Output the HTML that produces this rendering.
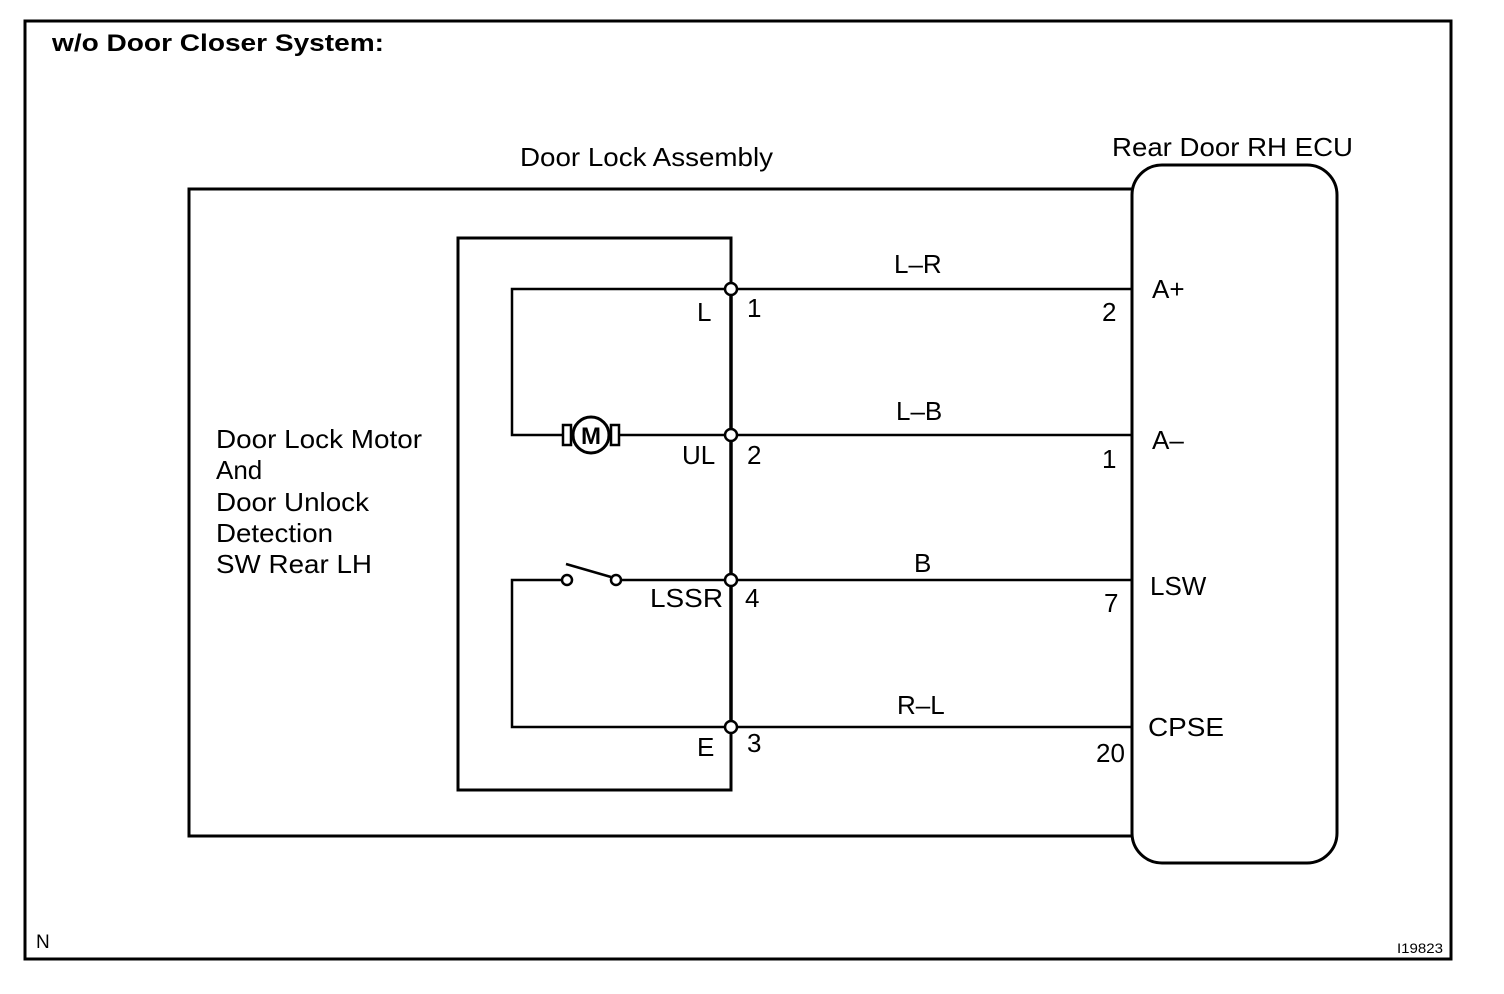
<!DOCTYPE html>
<html><head><style>
html,body{margin:0;padding:0;background:#fff;}
svg{display:block;}
text{font-family:"Liberation Sans",Arial,sans-serif;fill:#000;}
</style></head><body>
<svg width="1504" height="994" viewBox="0 0 1504 994" xmlns="http://www.w3.org/2000/svg">
<rect x="25" y="21" width="1426" height="938" fill="none" stroke="#000" stroke-width="3"/>
<text x="52" y="51" font-size="24" font-weight="bold" textLength="332" lengthAdjust="spacingAndGlyphs">w/o Door Closer System:</text>
<text x="520" y="166" font-size="26" textLength="253" lengthAdjust="spacingAndGlyphs">Door Lock Assembly</text>
<text x="1112" y="156" font-size="26" textLength="241" lengthAdjust="spacingAndGlyphs">Rear Door RH ECU</text>
<path d="M1132 189 H189 V836 H1132" fill="none" stroke="#000" stroke-width="3"/>
<rect x="1132" y="165" width="205" height="698" rx="30" ry="30" fill="none" stroke="#000" stroke-width="3"/>
<path d="M731 289 V238 H458 V790 H731 V727" fill="none" stroke="#000" stroke-width="3"/>
<line x1="731" y1="289" x2="731" y2="727" stroke="#000" stroke-width="3.5"/>
<g stroke="#000" stroke-width="2.5" fill="none">
<line x1="731" y1="289" x2="1132" y2="289"/>
<line x1="731" y1="435" x2="1132" y2="435"/>
<line x1="731" y1="580" x2="1132" y2="580"/>
<line x1="731" y1="727" x2="1132" y2="727"/>
<path d="M731 289 H512 V435 H563"/>
<path d="M619 435 H731"/>
<path d="M567 580 H512 V727 H731"/>
<path d="M616 580 H731"/>
<line x1="566" y1="564" x2="611" y2="577"/>
<rect x="563" y="425" width="8" height="20"/>
<rect x="611" y="425" width="8" height="20"/>
</g>
<circle cx="591" cy="435" r="18" fill="#fff" stroke="#000" stroke-width="3"/>
<text x="591" y="444" font-size="24" font-weight="bold" text-anchor="middle">M</text>
<g fill="#fff" stroke="#000" stroke-width="2.5">
<circle cx="567" cy="580" r="5"/><circle cx="616" cy="580" r="5"/>
<circle cx="731" cy="289" r="6"/><circle cx="731" cy="435" r="6"/>
<circle cx="731" cy="580" r="6"/><circle cx="731" cy="727" r="6"/>
</g>
<g font-size="26">
<text x="697" y="321">L</text><text x="747" y="317">1</text>
<text x="682" y="464">UL</text><text x="747" y="464">2</text>
<text x="650" y="607" textLength="73" lengthAdjust="spacingAndGlyphs">LSSR</text><text x="745" y="607">4</text>
<text x="697" y="756">E</text><text x="747" y="752">3</text>
<text x="894" y="273">L–R</text><text x="896" y="420">L–B</text>
<text x="914" y="572">B</text><text x="897" y="714">R–L</text>
<text x="1102" y="321">2</text><text x="1102" y="468">1</text>
<text x="1104" y="612">7</text><text x="1096" y="762">20</text>
<text x="1152" y="298">A+</text><text x="1152" y="449">A–</text>
<text x="1150" y="595">LSW</text><text x="1148" y="736" textLength="76" lengthAdjust="spacingAndGlyphs">CPSE</text>
<text x="216" y="448" textLength="206" lengthAdjust="spacingAndGlyphs">Door Lock Motor</text>
<text x="216" y="479">And</text>
<text x="216" y="511" textLength="153" lengthAdjust="spacingAndGlyphs">Door Unlock</text>
<text x="216" y="542" textLength="117" lengthAdjust="spacingAndGlyphs">Detection</text>
<text x="216" y="573" textLength="156" lengthAdjust="spacingAndGlyphs">SW Rear LH</text>
</g>
<text x="36" y="948" font-size="19">N</text>
<text x="1397" y="953" font-size="14" textLength="46" lengthAdjust="spacingAndGlyphs">I19823</text>
</svg>
</body></html>
